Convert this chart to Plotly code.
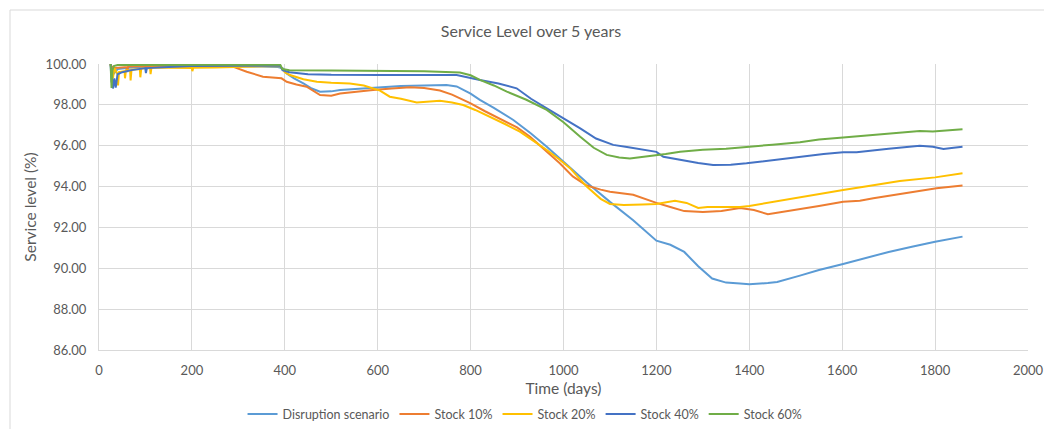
import plotly.graph_objects as go

# ---------------- data ----------------
disr_days = [25, 27, 29, 31, 40, 60, 61, 62, 100, 101, 102, 150, 200, 250, 300, 350, 385,
             396, 404, 420, 440, 458, 476, 500, 519, 560, 605, 650, 700, 748, 770, 800, 820,
             850, 892, 930, 964, 1007, 1050, 1100, 1150, 1200, 1230, 1260, 1290, 1320, 1350,
             1380, 1400, 1440, 1460, 1509, 1550, 1602, 1650, 1700, 1750, 1800, 1859]
disr_vals = [100.0, 99.1, 99.7, 99.5, 99.75, 99.8, 99.6, 99.82, 99.85, 99.62, 99.85, 99.88,
             99.88, 99.9, 99.9, 99.88, 99.85, 99.79, 99.54, 99.3, 99.05, 98.8, 98.64, 98.66,
             98.73, 98.8, 98.88, 98.92, 98.95, 98.97, 98.9, 98.55, 98.24, 97.85, 97.26, 96.6,
             95.95, 95.06, 94.2, 93.25, 92.35, 91.35, 91.15, 90.8, 90.1, 89.5, 89.3, 89.25,
             89.22, 89.28, 89.33, 89.64, 89.92, 90.21, 90.5, 90.8, 91.05, 91.3, 91.55]

s10_days = [25, 28, 30, 35, 60, 61, 63, 100, 150, 200, 250, 288, 318, 353, 393, 404, 425,
            447, 476, 500, 519, 550, 590, 630, 670, 700, 734, 760, 799, 830, 863, 900, 928,
            960, 992, 1020, 1050, 1080, 1100, 1150, 1200, 1230, 1260, 1300, 1340, 1380, 1410,
            1440, 1470, 1509, 1550, 1602, 1638, 1667, 1700, 1750, 1803, 1859]
s10_vals = [100.0, 99.5, 99.85, 99.8, 99.85, 99.7, 99.88, 99.9, 99.92, 99.9, 99.9, 99.87,
            99.62, 99.38, 99.3, 99.13, 99.0, 98.89, 98.48, 98.45, 98.56, 98.65, 98.73, 98.8,
            98.86, 98.82, 98.7, 98.5, 98.08, 97.7, 97.34, 96.9, 96.44, 95.8, 95.14, 94.5,
            94.05, 93.85, 93.75, 93.6, 93.2, 93.0, 92.8, 92.75, 92.8, 92.95, 92.85, 92.65,
            92.75, 92.89, 93.05, 93.26, 93.31, 93.43, 93.55, 93.72, 93.92, 94.05]

s20_days = [25, 30, 33, 40, 41, 43, 55, 56, 58, 67, 68, 70, 88, 89, 91, 110, 111, 113, 150,
            200, 201, 203, 250, 300, 350, 390, 400, 411, 440, 469, 500, 540, 570, 590, 605,
            626, 650, 684, 710, 734, 760, 784, 810, 842, 875, 906, 935, 964, 990, 1014, 1050,
            1080, 1100, 1130, 1170, 1200, 1240, 1265, 1290, 1310, 1350, 1380, 1400, 1450,
            1509, 1550, 1602, 1650, 1724, 1800, 1859]
s20_vals = [100.0, 99.3, 99.8, 99.5, 98.95, 99.6, 99.65, 99.3, 99.7, 99.7, 99.2, 99.72,
            99.75, 99.35, 99.78, 99.8, 99.5, 99.82, 99.82, 99.8, 99.65, 99.82, 99.83, 99.85,
            99.88, 99.9, 99.6, 99.46, 99.25, 99.13, 99.08, 99.05, 98.95, 98.81, 98.7, 98.4,
            98.3, 98.12, 98.16, 98.2, 98.12, 97.99, 97.75, 97.42, 97.05, 96.69, 96.25, 95.79,
            95.35, 94.9, 94.0, 93.4, 93.15, 93.1, 93.12, 93.15, 93.3, 93.2, 92.95, 93.0, 93.0,
            93.0, 93.05, 93.25, 93.46, 93.65, 93.83, 94.0, 94.27, 94.45, 94.65]

s40_days = [25, 28, 30, 33, 36, 40, 50, 70, 100, 101, 103, 150, 200, 300, 390, 395, 410,
            450, 500, 605, 676, 770, 820, 860, 899, 930, 964, 1000, 1036, 1070, 1107, 1140,
            1179, 1200, 1215, 1251, 1290, 1322, 1360, 1394, 1450, 1509, 1560, 1602, 1631,
            1700, 1767, 1795, 1818, 1840, 1859]
s40_vals = [100.0, 99.0, 98.8, 99.3, 98.85, 99.5, 99.6, 99.7, 99.8, 99.55, 99.8, 99.85,
            99.9, 99.92, 99.92, 99.7, 99.6, 99.5, 99.47, 99.46, 99.46, 99.46, 99.22, 99.05,
            98.81, 98.3, 97.83, 97.35, 96.85, 96.35, 96.04, 95.93, 95.79, 95.7, 95.46, 95.3,
            95.15, 95.06, 95.07, 95.14, 95.3, 95.46, 95.6, 95.68, 95.68, 95.85, 96.0, 95.95,
            95.84, 95.9, 95.95]

s60_days = [25, 27, 29, 32, 40, 100, 200, 390, 395, 410, 500, 605, 700, 777, 800, 820, 850,
            878, 920, 964, 1000, 1036, 1065, 1093, 1120, 1143, 1193, 1220, 1251, 1300, 1350,
            1394, 1450, 1509, 1550, 1602, 1700, 1767, 1795, 1859]
s60_vals = [100.0, 98.83, 99.7, 99.9, 99.95, 99.95, 99.97, 99.97, 99.75, 99.7, 99.68, 99.67,
            99.65, 99.58, 99.45, 99.22, 98.95, 98.65, 98.25, 97.75, 97.15, 96.44, 95.9, 95.55,
            95.42, 95.38, 95.5, 95.6, 95.71, 95.8, 95.85, 95.95, 96.05, 96.17, 96.3, 96.4,
            96.6, 96.72, 96.69, 96.8]

series_names = ["Disruption scenario", "Stock 10%", "Stock 20%", "Stock 40%", "Stock 60%"]
x_ticks = [0, 200, 400, 600, 800, 1000, 1200, 1400, 1600, 1800, 2000]
y_ticks = [86, 88, 90, 92, 94, 96, 98, 100]

# ---------------- figure ----------------
colors = ["#5B9BD5", "#ED7D31", "#FFC000", "#4472C4", "#70AD47"]
all_days = [disr_days, s10_days, s20_days, s40_days, s60_days]
all_vals = [disr_vals, s10_vals, s20_vals, s40_vals, s60_vals]

FONT = "Lato"
TXT = "#595959"
GRID = "#D9D9D9"

fig = go.Figure()
for name, d, v, c in zip(series_names, all_days, all_vals, colors):
    fig.add_trace(go.Scatter(x=d, y=v, mode="lines", name=name,
                             line=dict(color=c, width=2)))

fig.update_layout(
    width=1044, height=429,
    margin=dict(l=99, r=16, t=64, b=79, autoexpand=False),
    paper_bgcolor="white", plot_bgcolor="white",
    font=dict(family=FONT, color=TXT, size=13),
    title=dict(text="Service Level over 5 years", x=531 / 1044, xref="container",
               xanchor="center", y=1 - 31 / 429, yref="container", yanchor="middle",
               font=dict(size=16, color=TXT, family=FONT)),
    showlegend=True,
    legend=dict(orientation="h", x=0.4586, xanchor="center", y=-0.225, yanchor="middle",
                font=dict(size=12.5, color=TXT, family=FONT), itemwidth=30,
                bgcolor="rgba(0,0,0,0)"),
    xaxis=dict(range=[0, 2000], tickvals=x_ticks, showgrid=True, gridcolor=GRID,
               gridwidth=1, zeroline=False, showline=True, linecolor=GRID, linewidth=1,
               ticks="", ticklabelstandoff=8, tickfont=dict(size=13, color=TXT),
               automargin=False,
               title=dict(text="Time (days)", font=dict(size=15.5, color=TXT), standoff=6)),
    yaxis=dict(range=[86, 100], tickvals=y_ticks, tickformat=".2f", showgrid=True,
               gridcolor=GRID, gridwidth=1, zeroline=False, showline=True, linecolor=GRID,
               linewidth=1, ticks="", ticklabelstandoff=9, tickfont=dict(size=13, color=TXT),
               automargin=False,
               title=dict(text="Service level (%)", font=dict(size=15.5, color=TXT), standoff=5)),
)

# chart frame
fig.add_shape(type="rect", xref="paper", yref="paper",
              x0=(10 - 99) / 929, x1=(1060 - 99) / 929,
              y0=(350 - 460) / 286, y1=(350 - 10) / 286,
              line=dict(color="#D9D9D9", width=1), fillcolor="rgba(0,0,0,0)", layer="below")

fig.write_html("out.html", config={"displayModeBar": False},
               post_script="document.body.style.margin='0';document.body.style.overflow='hidden';")
